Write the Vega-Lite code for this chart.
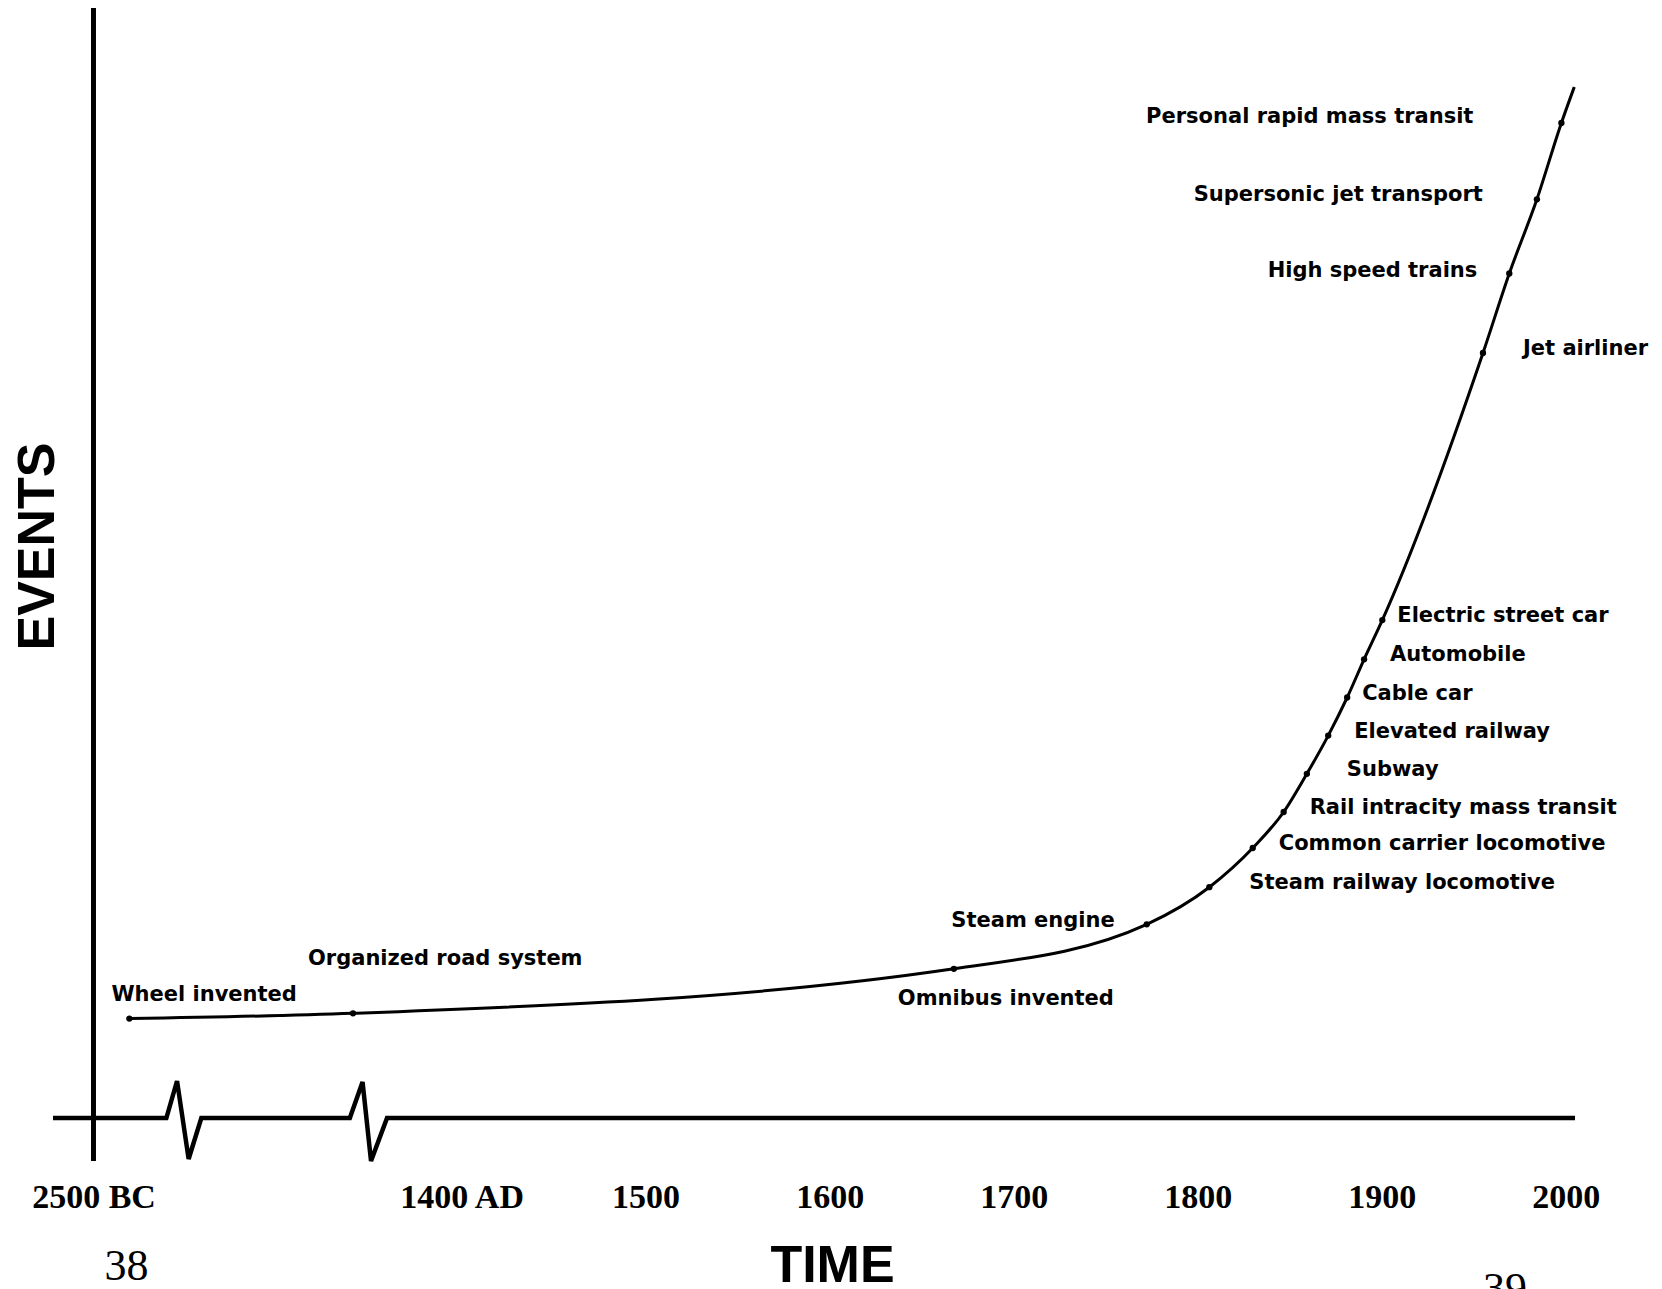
{
  "$schema": "https://vega.github.io/schema/vega-lite/v6.json",
  "width": 1522,
  "height": 1110,
  "autosize": {"type": "none"},
  "padding": {"left": 53, "top": 8, "right": 87, "bottom": 171},
  "background": "white",
  "config": {"view": {"stroke": null}},
  "datasets": {
    "events": [
      {"event": "Wheel invented", "year": 1219.5, "value": 99.4},
      {"event": "Organized road system", "year": 1341, "value": 104.7},
      {"event": "Omnibus invented", "year": 1667.5, "value": 149.2},
      {"event": "Steam engine", "year": 1772.3, "value": 193.7},
      {"event": "Steam railway locomotive", "year": 1806.3, "value": 230.8},
      {"event": "Common carrier locomotive", "year": 1829.9, "value": 270},
      {"event": "Rail intracity mass transit", "year": 1846.7, "value": 306},
      {"event": "Subway", "year": 1859.3, "value": 344.2},
      {"event": "Elevated railway", "year": 1870.9, "value": 382.4},
      {"event": "Cable car", "year": 1881.2, "value": 420.5},
      {"event": "Automobile", "year": 1890.4, "value": 458.7},
      {"event": "Electric street car", "year": 1900.3, "value": 497.9},
      {"event": "Jet airliner", "year": 1955, "value": 765},
      {"event": "High speed trains", "year": 1969.3, "value": 844.5},
      {"event": "Supersonic jet transport", "year": 1984.3, "value": 918.7},
      {"event": "Personal rapid mass transit", "year": 1997.6, "value": 995}
    ],
    "curve": [
      {"year": 1219.5, "value": 99.4},
      {"year": 1341, "value": 104.7},
      {"year": 1667.5, "value": 149.2},
      {"year": 1772.3, "value": 193.7},
      {"year": 1806.3, "value": 230.8},
      {"year": 1829.9, "value": 270},
      {"year": 1846.7, "value": 306},
      {"year": 1859.3, "value": 344.2},
      {"year": 1870.9, "value": 382.4},
      {"year": 1881.2, "value": 420.5},
      {"year": 1890.4, "value": 458.7},
      {"year": 1900.3, "value": 497.9},
      {"year": 1955, "value": 765},
      {"year": 1969.3, "value": 844.5},
      {"year": 1984.3, "value": 918.7},
      {"year": 1997.6, "value": 995},
      {"year": 2004.6, "value": 1031}
    ],
    "axisline": [
      {"year": 1178, "value": 0},
      {"year": 1239.6, "value": 0},
      {"year": 1245.4, "value": 37},
      {"year": 1251.7, "value": -41},
      {"year": 1258.6, "value": 0},
      {"year": 1339.3, "value": 0},
      {"year": 1346.2, "value": 36},
      {"year": 1350.8, "value": -43},
      {"year": 1359.5, "value": 0},
      {"year": 2005, "value": 0}
    ],
    "vaxis": [
      {"year": 1200, "value": -43},
      {"year": 1200, "value": 1110}
    ],
    "pages": [
      {"page": "38", "year": 1218, "value": -149},
      {"page": "39", "year": 1967, "value": -172}
    ]
  },
  "encoding": {
    "x": {
      "field": "year",
      "type": "quantitative",
      "scale": {"domain": [1178, 2005], "nice": false, "zero": false},
      "axis": {
        "values": [1200, 1400, 1500, 1600, 1700, 1800, 1900, 2000],
        "labelExpr": "datum.value == 1200 ? '2500 BC' : datum.value == 1400 ? '1400 AD' : datum.label",
        "format": "d",
        "domain": false,
        "ticks": false,
        "grid": false,
        "labelFont": "Liberation Serif",
        "labelFontSize": 34,
        "labelFontWeight": "bold",
        "labelColor": "black",
        "labelPadding": 62,
        "labelFlush": false,
        "labelOverlap": false,
        "title": "TIME",
        "titleFont": "Liberation Sans",
        "titleFontSize": 52,
        "titleFontWeight": "bold",
        "titleColor": "black",
        "titleX": 779,
        "titleY": 147,
        "titleAlign": "center",
        "titleBaseline": "middle"
      }
    },
    "y": {
      "field": "value",
      "type": "quantitative",
      "scale": {"domain": [0, 1110], "nice": false, "zero": false},
      "axis": {
        "domain": false,
        "ticks": false,
        "labels": false,
        "grid": false,
        "title": "EVENTS",
        "titleFont": "Liberation Sans",
        "titleFontSize": 52,
        "titleFontWeight": "bold",
        "titleColor": "black",
        "titleAngle": 270,
        "titleX": -16,
        "titleY": 538,
        "titleAlign": "center",
        "titleBaseline": "middle"
      }
    }
  },
  "layer": [
    {
      "data": {"name": "vaxis"},
      "mark": {"type": "line", "strokeWidth": 5, "color": "black"},
      "encoding": {"order": {"field": "value", "type": "quantitative"}}
    },
    {
      "data": {"name": "axisline"},
      "mark": {"type": "line", "strokeWidth": 4.5, "color": "black", "strokeJoin": "miter"}
    },
    {
      "data": {"name": "curve"},
      "mark": {"type": "line", "interpolate": "monotone", "strokeWidth": 3, "color": "black"}
    },
    {
      "data": {"name": "events"},
      "mark": {"type": "circle", "size": 40, "color": "black", "opacity": 1}
    },
    {
      "data": {"name": "events"},
      "transform": [{"filter": {"field": "event", "oneOf": ["Steam railway locomotive", "Subway", "Jet airliner"]}}],
      "mark": {"type": "text", "align": "left", "baseline": "middle", "dx": 40, "dy": -4, "font": "DejaVu Sans", "fontWeight": "bold", "fontSize": 21, "color": "black"},
      "encoding": {"text": {"field": "event"}}
    },
    {
      "data": {"name": "events"},
      "transform": [{"filter": {"field": "event", "oneOf": ["Common carrier locomotive", "Rail intracity mass transit", "Elevated railway", "Automobile"]}}],
      "mark": {"type": "text", "align": "left", "baseline": "middle", "dx": 26, "dy": -4, "font": "DejaVu Sans", "fontWeight": "bold", "fontSize": 21, "color": "black"},
      "encoding": {"text": {"field": "event"}}
    },
    {
      "data": {"name": "events"},
      "transform": [{"filter": {"field": "event", "oneOf": ["Cable car", "Electric street car"]}}],
      "mark": {"type": "text", "align": "left", "baseline": "middle", "dx": 15, "dy": -4, "font": "DejaVu Sans", "fontWeight": "bold", "fontSize": 21, "color": "black"},
      "encoding": {"text": {"field": "event"}}
    },
    {
      "data": {"name": "events"},
      "transform": [{"filter": {"field": "event", "oneOf": ["Steam engine", "High speed trains"]}}],
      "mark": {"type": "text", "align": "right", "baseline": "middle", "dx": -32, "dy": -3, "font": "DejaVu Sans", "fontWeight": "bold", "fontSize": 21, "color": "black"},
      "encoding": {"text": {"field": "event"}}
    },
    {
      "data": {"name": "events"},
      "transform": [{"filter": {"field": "event", "oneOf": ["Supersonic jet transport"]}}],
      "mark": {"type": "text", "align": "right", "baseline": "middle", "dx": -54, "dy": -4, "font": "DejaVu Sans", "fontWeight": "bold", "fontSize": 21, "color": "black"},
      "encoding": {"text": {"field": "event"}}
    },
    {
      "data": {"name": "events"},
      "transform": [{"filter": {"field": "event", "oneOf": ["Personal rapid mass transit"]}}],
      "mark": {"type": "text", "align": "right", "baseline": "middle", "dx": -88, "dy": -6, "font": "DejaVu Sans", "fontWeight": "bold", "fontSize": 21, "color": "black"},
      "encoding": {"text": {"field": "event"}}
    },
    {
      "data": {"name": "events"},
      "transform": [{"filter": {"field": "event", "oneOf": ["Wheel invented"]}}],
      "mark": {"type": "text", "align": "left", "baseline": "middle", "dx": -18, "dy": -24, "font": "DejaVu Sans", "fontWeight": "bold", "fontSize": 21, "color": "black"},
      "encoding": {"text": {"field": "event"}}
    },
    {
      "data": {"name": "events"},
      "transform": [{"filter": {"field": "event", "oneOf": ["Organized road system"]}}],
      "mark": {"type": "text", "align": "left", "baseline": "middle", "dx": -45, "dy": -54, "font": "DejaVu Sans", "fontWeight": "bold", "fontSize": 21, "color": "black"},
      "encoding": {"text": {"field": "event"}}
    },
    {
      "data": {"name": "events"},
      "transform": [{"filter": {"field": "event", "oneOf": ["Omnibus invented"]}}],
      "mark": {"type": "text", "align": "left", "baseline": "middle", "dx": -56, "dy": 30, "font": "DejaVu Sans", "fontWeight": "bold", "fontSize": 21, "color": "black"},
      "encoding": {"text": {"field": "event"}}
    },
    {
      "data": {"name": "pages"},
      "mark": {"type": "text", "align": "center", "baseline": "middle", "font": "Liberation Serif", "fontSize": 44, "color": "black"},
      "encoding": {"text": {"field": "page"}}
    }
  ]
}
